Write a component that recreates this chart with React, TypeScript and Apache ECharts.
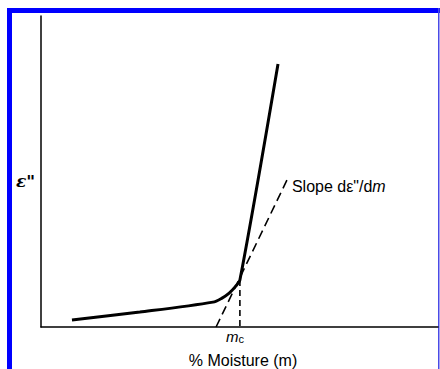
import React, { useEffect, useRef } from "react";
import * as echarts from "echarts";

// Curve of ε'' versus % moisture (chart units 0..100 on both axes)
const curveX = [7.8, 24.9, 43.3, 45.6, 47.4, 48.9, 50.1, 59.7];
const curveY = [2.25, 4.8, 8.0, 9.3, 10.9, 12.9, 15.1, 84.6];
// Tangent (slope dε''/dm) line
const tangentX = [44.1, 62.2];
const tangentY = [0, 47.9];
// Critical moisture m_c
const mcX = 50.1;
const mcY = 15.1;

const xName = "% Moisture (m)";
const yName = "ε\"";
const slopeText = "Slope dε\"/d";

export default function App() {
  const ref = useRef<HTMLDivElement>(null);
  useEffect(() => {
    if (!ref.current) return;
    const chart = echarts.init(ref.current, null, { renderer: "svg" });
    const font = "Liberation Sans";
    chart.setOption({
      animation: false,
      backgroundColor: "#ffffff",
      grid: { left: 41, right: 2, top: 16, bottom: 42, outerBoundsMode: "none", containLabel: false },
      xAxis: {
        type: "value",
        min: 0,
        max: 100,
        axisLine: { show: true, lineStyle: { color: "#000", width: 1.5 } },
        axisTick: { show: false },
        axisLabel: { show: false },
        splitLine: { show: false },
        name: xName,
        nameLocation: "middle",
        nameGap: 25,
        nameTextStyle: { fontFamily: font, fontSize: 16, color: "#000", padding: [0, 0, 0, 7] },
      },
      yAxis: {
        type: "value",
        min: 0,
        max: 100,
        axisLine: { show: true, lineStyle: { color: "#000", width: 1.5 } },
        axisTick: { show: false },
        axisLabel: { show: false },
        splitLine: { show: false },
      },
      series: [
        {
          type: "line",
          data: curveX.map((x, i) => [x, curveY[i]]),
          smooth: 0.3,
          symbol: "none",
          lineStyle: { color: "#000", width: 3 },
        },
        {
          type: "line",
          data: tangentX.map((x, i) => [x, tangentY[i]]),
          symbol: "none",
          lineStyle: { color: "#000", width: 1.6, type: [9, 5] },
          endLabel: {
            show: true,
            formatter: () => "{t|" + slopeText + "}{m|m}",
            offset: [0, 8],
            distance: 4,
            rich: {
              t: { fontFamily: font, fontSize: 16, color: "#000" },
              m: { fontFamily: font, fontSize: 16, fontStyle: "italic", color: "#000" },
            },
          },
        },
        {
          type: "line",
          data: [
            [mcX, mcY],
            [mcX, 0],
          ],
          symbol: "none",
          lineStyle: { color: "#000", width: 1.6, type: [6, 4] },
          markPoint: {
            silent: true,
            symbol: "circle",
            symbolSize: 1,
            itemStyle: { color: "rgba(0,0,0,0)" },
            data: [{ coord: [mcX, 0] }],
            label: {
              show: true,
              position: "bottom",
              distance: 1,
              offset: [-5, 0],
              color: "#000",
              opacity: 1,
              formatter: () => "{m|m}{c|c}",
              rich: {
                m: { fontFamily: font, fontSize: 15, fontStyle: "italic", color: "#000", lineHeight: 16 },
                c: { fontFamily: font, fontSize: 11, color: "#000", padding: [5, 0, 0, 0], lineHeight: 16 },
              },
            },
          },
        },
      ],
      graphic: [
        {
          type: "text",
          left: 16,
          top: 172,
          style: {
            text: yName,
            fontFamily: "DejaVu Serif",
            fontSize: 17,
            fontStyle: "italic",
            fontWeight: "bold",
            fill: "#000",
          },
        },
        { type: "rect", shape: { x: 7, y: 8, width: 433, height: 5 }, style: { fill: "#0000ff" } },
        { type: "rect", shape: { x: 7, y: 8, width: 5, height: 361 }, style: { fill: "#0000ff" } },
        { type: "rect", shape: { x: 438, y: 8, width: 1.5, height: 361 }, style: { fill: "#4a4ae6" } },
      ],
    });
    return () => chart.dispose();
  }, []);
  return (
    <div
      ref={ref}
      style={{ position: "fixed", left: 0, top: 0, width: 440, height: 369, background: "#fff" }}
    />
  );
}
